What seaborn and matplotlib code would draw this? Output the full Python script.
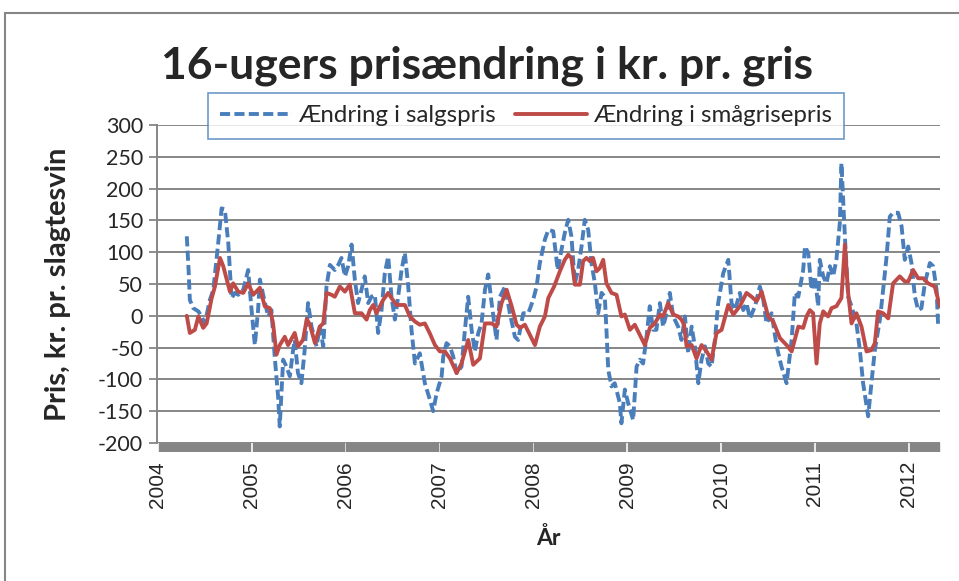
import matplotlib
matplotlib.use("Agg")
import matplotlib.pyplot as plt
from matplotlib.patches import Rectangle
from matplotlib.ticker import MultipleLocator
import seaborn as sns
import pandas as pd

# uge = uger siden 1. uge i 2004, værdi = kr. pr. gris
salg_uge = [16, 17, 17.7, 19.6, 22.4, 24.2, 26, 28.8, 30.7, 33.4, 35.3, 37.1, 39, 40.8, 42.7, 44.5,
            47.3, 50, 51.9, 53.7, 55.5, 56.5, 58.3, 61.1, 62.9, 64.7, 66.6, 67.5, 69.4, 71.2, 73.1,
            74.9, 75.8, 77.6, 79.5, 81.3, 83.2, 85.1, 87.9, 89.7, 91.6, 93.4, 95.3, 98, 99.9, 101.7,
            103.6, 105.4, 107.3, 109.1, 110.9, 112.8, 114.6, 116.5, 118.3, 120.2, 122, 123.9, 125.7,
            127.6, 129.4, 131.3, 133.1, 135, 136.8, 138.7, 140.5, 142.4, 145.1, 147.9, 150.7, 152.5,
            154.4, 157.2, 158.1, 159.9, 161.8, 163.6, 165.5, 168.2, 170.1, 171.9, 173.8, 175.6, 177.5,
            179.3, 181.2, 183, 184.9, 187.6, 189.5, 192.3, 195, 197.8, 199.6, 202.4, 205.2, 207.9,
            209.8, 211.6, 214.4, 216.3, 219, 221.5, 223.6, 225.4, 227.3, 229.1, 231, 232.8, 234.7,
            236.5, 238.4, 240.2, 242.1, 243.9, 245.8, 247.6, 248.5, 249.5, 251.3, 253.1, 255.9, 256.8,
            258.7, 260.5, 263.3, 265.2, 267, 268.8, 270.7, 272.5, 274.4, 276.2, 278.1, 279.9, 281.8,
            283.6, 285.5, 288.2, 290.1, 292, 293.8, 295.7, 297.5, 299.4, 301.2, 303.1, 304.9, 306.7,
            308.6, 310.4, 313.2, 316, 317.8, 319.7, 322.4, 324.3, 326.1, 328, 330.8, 333.5, 335.4,
            337.2, 340, 342.8, 345.5, 348.3, 351.1, 352.9, 354.8, 357.5, 358.5, 360.3, 362.1, 364,
            365.8, 366.7, 368.6, 370.4, 372.3, 374.1, 375.9, 377.8, 378.7, 380.6, 382.4, 384.3, 387,
            388.9, 390.7, 393.5, 395.3, 397.2, 400, 401.8, 403.7, 405.5, 407.3, 410.1, 412, 413.8,
            415.7, 417.5, 419.4, 421.2, 423, 424.9, 427.7, 429.5, 431.4, 432.3]
salg_vaerdi = [125, 72, 25, 12, 7, -1, -12, 25, 41, 114, 169, 167, 114, 28, 36, 33,
               41, 72, 9, -46, 9, 57, 33, -1, 9, -64, -127, -174, -69, -80, -95,
               -54, -38, -90, -106, -54, 20, -17, -48, -17, -48, 46, 80, 72, 80, 91,
               62, 78, 112, 57, 20, 41, 62, 20, 30, 33, -27, 9, 67,
               93, 30, -6, 30, 72, 99, 46, -22, -75, -59, -106, -132, -150,
               -122, -95, -64, -43, -48, -64, -90, -80, -22, 30, -22, -56, -27,
               -12, 41, 65, 20, -38, 30, 46, 4, -33, -38, 4, 4, 25,
               46, 83, 120, 135, 133, 72, 104, 130, 151, 125, 51, 72, 109,
               151, 135, 83, 51, 4, 36, 30, -22, -85, -111, -106, -137, -169,
               -116, -137, -164, -80, -69, -75, -33, 15, -22, -22, 20, -17, 4,
               36, -1, -17, -38, -1, -59, -17, -48, -106, -69, -48, -75, -80,
               -38, 20, 67, 88, 20, 9, 36, 9, 20, -4, 15, 46, 25,
               -12, 4, -48, -80, -106, -38, 36, 30, 72, 109, 99, 41, 62,
               15, 88, 62, 51, 78, 62, 88, 146, 240, 125, 30, 15, -12,
               -54, -106, -158, -106, -54, -6, 41, 93, 156, 162, 162, 141, 88,
               109, 83, 30, 9, 12, 51, 83, 78, 41, -17]

smaa_uge = [16, 17.7, 20.5, 22.4, 25.1, 27, 29.8, 31.6, 34.4, 36.2, 39.9, 41.7, 44.5, 47.3, 50,
            52.8, 56.5, 59.2, 62, 63.8, 65.7, 67.5, 70.3, 72.1, 75.8, 77.6, 80.4, 82.5, 84.2, 87,
            89.7, 91.6, 93.4, 96.2, 98, 100.8, 103.6, 106.3, 109.1, 112.8, 115.6, 117.4, 119.3,
            121.1, 124.8, 127.6, 129.4, 132.2, 136.8, 139.6, 142.4, 145.1, 147.9, 150.7, 153.5,
            156.2, 159, 161.8, 165.5, 168.2, 171.9, 174.7, 178.4, 181.2, 184.9, 187.6, 190.4,
            193.2, 196, 198.7, 200.6, 203.3, 206.1, 208.9, 211.6, 214.4, 216.3, 219.5, 222.7,
            225.4, 227.3, 229.1, 231, 233.8, 235.6, 237.4, 239.3, 241.1, 243, 244.8, 246.7, 248.5,
            251.3, 254.1, 256.8, 258.7, 261.5, 264.2, 267, 269.8, 272.5, 275.3, 278.1, 279.9,
            282.7, 285.5, 288.2, 290.1, 291.5, 292.9, 295.7, 298.4, 301.2, 304, 306.7, 309.5,
            312.3, 316, 318.8, 322.4, 326.1, 328.9, 331.7, 334.5, 338.1, 340.9, 344.6, 348.3,
            351.1, 354.8, 357.5, 359.5, 361.2, 363, 364.9, 366.7, 368.6, 371.3, 373.2, 375.9,
            378.7, 380.6, 382.4, 384.3, 387, 389.8, 392.6, 395.3, 397.2, 399, 401.8, 404.6, 407.3,
            411, 413.8, 415.7, 418.4, 421.2, 424, 426.7, 430.4, 433.2]
smaa_vaerdi = [0, -27, -22, -1, -19, -12, 28, 46, 91, 78, 38, 51, 38, 36, 51,
               33, 44, 15, 12, -12, -61, -46, -33, -46, -27, -48, -38, -5, -14, -43,
               -17, -12, 36, 33, 30, 46, 38, 49, 4, 4, -6, 9, 17,
               4, 25, 36, 28, 17, 17, -1, -9, -14, -12, -28, -46,
               -56, -56, -67, -90, -75, -38, -77, -67, -12, -12, -17, 20,
               41, 15, -14, -19, -14, -30, -46, -17, -1, 28, 46, 70,
               88, 96, 91, 49, 49, 86, 91, 86, 91, 70, 75, 88, 51,
               36, 33, -1, 2, -22, -14, -30, -46, -19, -12, 2, -1,
               20, 2, -1, -6, -14, -48, -46, -67, -46, -56, -69, -27,
               -22, 17, 2, 15, 36, 30, 23, 38, -1, -9, -35, -46,
               -56, -17, -19, 0, 9, 4, -75, -12, 7, -1, 12, 15,
               28, 112, 36, -12, 4, -17, -56, -54, -43, 7, 4, -4, 51,
               62, 54, 54, 72, 59, 59, 51, 46, 15]

aar = [2004, 2005, 2006, 2007, 2008, 2009, 2010, 2011, 2012]
y_ticks = [-200, -150, -100, -50, 0, 50, 100, 150, 200, 250, 300]

blaa = "#4a7ebb"
roed = "#be4b48"
graa = "#868686"

sns.set_style("white")
plt.rcParams["font.family"] = ["Lato", "DejaVu Sans"]

fig = plt.figure(figsize=(9.59, 5.81), dpi=100)
ax = fig.add_axes([157 / 959, 1 - 443 / 581, (940 - 157) / 959, (443 - 125) / 581])

df_salg = pd.DataFrame({"uge": salg_uge, "pris": salg_vaerdi})
df_smaa = pd.DataFrame({"uge": smaa_uge, "pris": smaa_vaerdi})

sns.lineplot(data=df_salg, x="uge", y="pris", ax=ax, color=blaa, linewidth=2.8,
             estimator=None, sort=False, label="Ændring i salgspris")
sns.lineplot(data=df_smaa, x="uge", y="pris", ax=ax, color=roed, linewidth=2.8,
             estimator=None, sort=False, label="Ændring i smågrisepris")
ax.lines[0].set_linestyle((0, (2.6, 1.1)))

ax.set_xlim(-0.5, 433.3)
ax.set_ylim(-200, 300)
ax.set_yticks(y_ticks)
ax.set_yticklabels([str(v) for v in y_ticks], fontsize=15.5)
ax.set_xticks([(a - 2004) * 52 for a in aar])
ax.set_xticklabels([str(a) for a in aar], rotation=90, fontsize=15,
                   family=["Liberation Sans", "DejaVu Sans"])
ax.xaxis.set_minor_locator(MultipleLocator(1))
ax.tick_params(axis="x", which="both", bottom=True)
ax.tick_params(axis="x", which="minor", length=6.5, width=1.7, color=graa, direction="out")
ax.tick_params(axis="x", which="major", length=0, pad=13)
ax.tick_params(axis="y", left=True, length=6, width=1.3, color=graa, direction="out", pad=4)

ax.grid(axis="y", color=graa, linewidth=1.4)
ax.set_axisbelow(True)
for s in ["top", "right", "bottom"]:
    ax.spines[s].set_visible(False)
ax.spines["left"].set_color(graa)
ax.spines["left"].set_linewidth(1.4)

ax.set_xlabel("År", fontsize=16.5, fontweight="bold", labelpad=14)
ax.set_ylabel("Pris, kr. pr. slagtesvin", fontsize=21, fontweight="bold")
ax.yaxis.set_label_coords(-0.11, 0.5)

fig.text(487 / 959, 1 - 66 / 581, "16-ugers prisændring i kr. pr. gris", ha="center",
         va="center", fontsize=32, fontweight="bold")

leg = ax.legend(loc="center", bbox_to_anchor=(526 / 959, 1 - 116 / 581),
                bbox_transform=fig.transFigure, ncol=2, fontsize=17.3, frameon=True,
                fancybox=False, edgecolor=blaa, handlelength=3.0, handletextpad=0.25,
                columnspacing=0.8, borderpad=0.5)
leg.get_frame().set_linewidth(1.2)

fig.patches.append(Rectangle((5 / 959, -0.1), 2, 1.1 - 13 / 581, transform=fig.transFigure,
                             fill=False, edgecolor=graa, linewidth=1.5))

fig.savefig("out.png", dpi=100)
